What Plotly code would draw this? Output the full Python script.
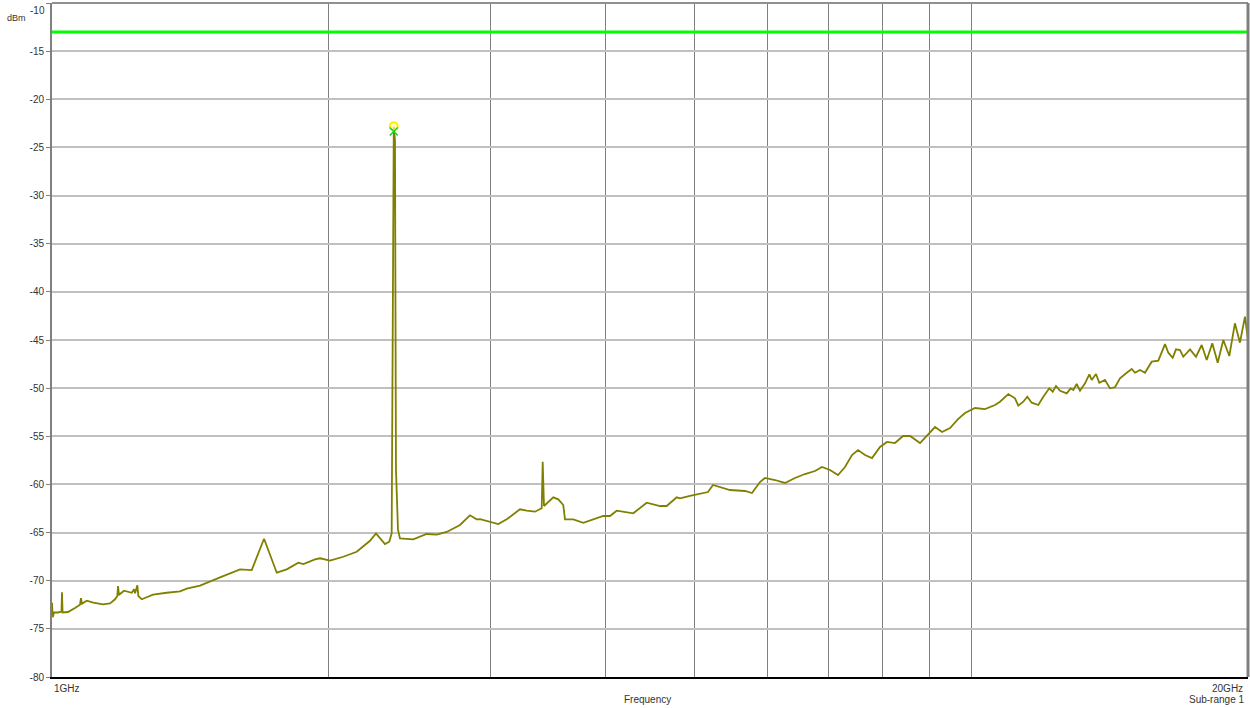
import plotly.graph_objects as go

# Spectrum sweep, 1 GHz to 20 GHz (sub-range 1)
freq_ghz = [
    1.0000, 1.0018, 1.0050, 1.0151, 1.0240, 1.0254, 1.0268, 1.0409, 1.0593, 1.0726,
    1.0753, 1.0780, 1.0908, 1.1090, 1.1363, 1.1564, 1.1710, 1.1778, 1.1798, 1.1828,
    1.1858, 1.1977, 1.2212, 1.2282, 1.2313, 1.2384, 1.2415, 1.2521, 1.2678, 1.2880,
    1.3328, 1.3781, 1.4014, 1.4489, 1.5234, 1.6016, 1.6492, 1.7009, 1.7559, 1.8004,
    1.8534, 1.8768, 1.9325, 1.9569, 2.0064, 2.0744, 2.1452, 2.2178, 2.2514, 2.3027,
    2.3276, 2.3416, 2.3539, 2.3610, 2.3669, 2.3788, 2.3907, 2.4717, 2.5561, 2.6210,
    2.6875, 2.7785, 2.8489, 2.8971, 2.9220, 2.9952, 3.0583, 3.1233, 3.2291, 3.2838,
    3.3528, 3.4096, 3.4181, 3.4292, 3.5101, 3.5543, 3.5990, 3.6143, 3.6903, 3.7840,
    3.8799, 3.9783, 4.0456, 4.1141, 4.2888, 4.4352, 4.5854, 4.6630, 4.7815, 4.8211,
    4.9432, 5.0686, 5.1712, 5.2364, 5.3291, 5.4645, 5.6735, 5.7738, 5.8906, 5.9648,
    6.1160, 6.2713, 6.4301, 6.5932, 6.7606, 6.8802, 7.0195, 7.1618, 7.2885, 7.4174,
    7.5299, 7.6631, 7.7988, 7.9567, 8.0974, 8.2613, 8.4287, 8.5779, 8.7954, 8.9285,
    9.1321, 9.2937, 9.4818, 9.6737, 9.8439, 10.094, 10.350, 10.612, 10.746, 10.972,
    11.157, 11.250, 11.392, 11.507, 11.634, 11.828, 11.977, 12.159, 12.263, 12.365,
    12.489, 12.700, 12.828, 12.912, 13.022, 13.130, 13.296, 13.440, 13.521, 13.667,
    13.781, 13.979, 14.155, 14.334, 14.514, 14.760, 14.946, 15.070, 15.260, 15.452,
    15.714, 15.976, 16.247, 16.381, 16.563, 16.700, 16.868, 17.008, 17.296, 17.558,
    17.810, 18.035, 18.289, 18.538, 18.800, 19.085, 19.355, 19.600, 19.850, 20.000,
]

level_dbm = [
    -72.30, -73.80, -73.30, -73.30, -73.20, -71.20, -73.30, -73.25, -72.84, -72.50,
    -71.80, -72.40, -72.08, -72.28, -72.45, -72.35, -71.93, -71.59, -70.55, -71.50,
    -71.38, -71.04, -71.25, -70.89, -71.30, -70.48, -71.59, -71.93, -71.72, -71.45,
    -71.25, -71.10, -70.83, -70.50, -69.65, -68.82, -68.89, -65.64, -69.17, -68.82,
    -68.13, -68.27, -67.78, -67.67, -67.92, -67.51, -66.99, -65.85, -65.08, -66.19,
    -65.95, -65.08, -22.90, -24.20, -58.50, -64.70, -65.60, -65.70, -65.15, -65.22,
    -64.94, -64.21, -63.21, -63.62, -63.60, -63.87, -64.11, -63.62, -62.58, -62.73,
    -62.83, -62.48, -57.64, -62.24, -61.34, -61.55, -62.14, -63.62, -63.62, -63.98,
    -63.62, -63.28, -63.28, -62.73, -63.00, -61.90, -62.24, -62.24, -61.34, -61.44,
    -61.20, -60.99, -60.79, -60.06, -60.27, -60.58, -60.68, -60.89, -59.75, -59.33,
    -59.54, -59.85, -59.33, -58.92, -58.61, -58.19, -58.50, -59.02, -58.19, -56.94,
    -56.43, -56.94, -57.26, -56.11, -55.59, -55.70, -54.97, -54.97, -55.70, -55.07,
    -54.04, -54.56, -54.14, -53.21, -52.58, -52.06, -52.17, -51.75, -51.41, -50.61,
    -51.06, -51.82, -51.41, -50.89, -51.51, -51.75, -50.89, -50.02, -50.37, -49.78,
    -50.27, -50.54, -50.02, -50.19, -49.57, -50.27, -49.50, -48.56, -49.15, -48.53,
    -49.44, -49.15, -50.02, -49.91, -48.98, -48.40, -48.01, -48.40, -48.12, -48.40,
    -47.25, -47.15, -45.42, -46.32, -46.84, -45.97, -46.04, -46.74, -45.97, -46.74,
    -45.52, -47.08, -45.34, -47.36, -45.00, -46.66, -43.27, -45.28, -42.58, -45.00,
]

# Limit line and peak marker
limit_dbm = -13.0
limit_span_ghz = [1.0, 20.0]
peak_freq_ghz = 2.3539
peak_marker_dbm = -22.8
peak_cross_dbm = -23.35

y_ticks = [-80, -75, -70, -65, -60, -55, -50, -45, -40, -35, -30, -25, -20, -15, -10]
x_grid_ghz = [2, 3, 4, 5, 6, 7, 8, 9, 10]

FONT = "Liberation Sans, Arial, sans-serif"
TXT = "#333333"

fig = go.Figure()

fig.add_trace(go.Scatter(
    x=limit_span_ghz, y=[limit_dbm, limit_dbm], mode="lines",
    line=dict(color="#00ff00", width=3), hoverinfo="skip", showlegend=False,
))

fig.add_trace(go.Scatter(
    x=freq_ghz, y=level_dbm, mode="lines",
    line=dict(color="#808000", width=1.8), showlegend=False,
))

fig.add_trace(go.Scatter(
    x=[peak_freq_ghz], y=[peak_marker_dbm], mode="markers",
    marker=dict(symbol="circle", size=8, color="rgba(255,255,150,0.6)",
                line=dict(color="#ffee00", width=2)),
    showlegend=False,
))
fig.add_trace(go.Scatter(
    x=[peak_freq_ghz], y=[peak_cross_dbm], mode="markers",
    marker=dict(symbol="x-thin-open", size=8, color="#22cc22",
                line=dict(color="#22cc22", width=1.5)),
    showlegend=False,
))

# tick labels except the top one (drawn separately so it is not clipped)
tick_text = [str(v) if v != -10 else "" for v in y_ticks]

fig.update_layout(
    width=1250, height=708,
    margin=dict(l=52, r=2, t=3, b=31),
    paper_bgcolor="white", plot_bgcolor="white",
    font=dict(family=FONT, size=10, color=TXT),
    xaxis=dict(
        type="log", range=[0, 1.30103],
        tickvals=x_grid_ghz, showticklabels=False, ticks="",
        showgrid=True, gridcolor="#808080", gridwidth=1,
        zeroline=False, showline=True, linecolor="#000000", linewidth=1.5,
    ),
    yaxis=dict(
        range=[-80, -10], tickvals=y_ticks, ticktext=tick_text,
        ticks="outside", ticklen=4, tickcolor="#808080", tickwidth=1,
        showgrid=True, gridcolor="#c0c0c0", gridwidth=2,
        zeroline=False, showline=True, linecolor="#808080", linewidth=2,
        tickfont=dict(family=FONT, size=10, color=TXT),
    ),
    shapes=[
        dict(type="line", xref="paper", yref="paper", x0=0, x1=1, y0=1, y1=1,
             line=dict(color="#909090", width=2)),
        dict(type="line", xref="paper", yref="paper", x0=1, x1=1, y0=0, y1=1,
             line=dict(color="#808080", width=3)),
    ],
    annotations=[
        dict(text="-10", xref="paper", yref="paper", x=-0.0042, y=1.0,
             showarrow=False, xanchor="right", yanchor="top",
             font=dict(family=FONT, size=10, color=TXT)),
        dict(text="dBm", xref="paper", yref="paper", x=-0.0293, y=0.978,
             showarrow=False, xanchor="center", yanchor="middle",
             font=dict(family=FONT, size=9, color=TXT)),
        dict(text="1GHz", xref="paper", yref="paper", x=0.0, y=-0.0178,
             showarrow=False, xanchor="left", yanchor="middle",
             font=dict(family=FONT, size=10, color=TXT)),
        dict(text="20GHz", xref="paper", yref="paper", x=0.9975, y=-0.0178,
             showarrow=False, xanchor="right", yanchor="middle",
             font=dict(family=FONT, size=10, color=TXT)),
        dict(text="Frequency", xref="paper", yref="paper", x=0.4983, y=-0.0341,
             showarrow=False, xanchor="center", yanchor="middle",
             font=dict(family=FONT, size=10, color=TXT)),
        dict(text="Sub-range 1", xref="paper", yref="paper", x=0.9983, y=-0.0341,
             showarrow=False, xanchor="right", yanchor="middle",
             font=dict(family=FONT, size=10, color=TXT)),
    ],
)

fig.write_html("out.html")
